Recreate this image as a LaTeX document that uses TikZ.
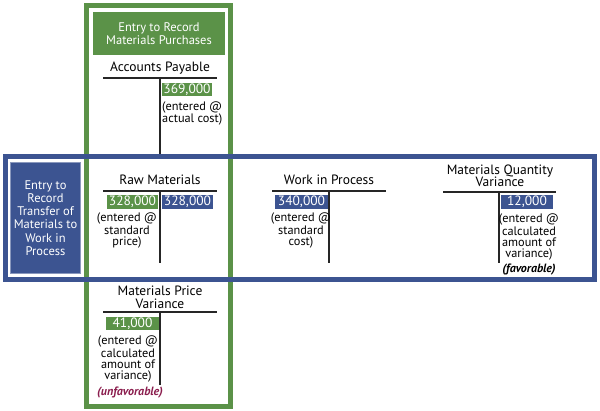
\documentclass[tikz,border=0pt]{standalone}
\usepackage{fontspec}
\setmainfont{PT Sans}
\definecolor{grn}{HTML}{5B9248}
\definecolor{blu}{HTML}{3C5491}
\definecolor{maroon}{HTML}{8B1E4E}
\tikzset{
  frame/.style={line width=5pt},
  title/.style={font=\fontsize{12.5}{13.2}\selectfont, text=white, align=center, inner sep=0pt},
  acct/.style={font=\fontsize{13.5}{12.5}\selectfont, align=center, inner sep=0pt},
  tline/.style={line width=1.6pt, black!85},
  amt/.style={font=\fontsize{13.5}{12}\selectfont, text=white, inner sep=0pt, minimum height=13.5pt},
  note/.style={font=\fontsize{12.3}{11.3}\selectfont, align=center, inner sep=0pt},
  fav/.style={font=\fontsize{12}{11}\selectfont\bfseries\itshape, inner sep=0pt}
}
\begin{document}
\begin{tikzpicture}[x=1pt,y=-1pt]
\useasboundingbox (0,0) rectangle (600,411);
% green frame
\draw[frame, grn] (86.5,5.5) rectangle (230.5,407);
% green title
\node[title, fill=grn, minimum width=132pt, minimum height=43pt] (gtitle) at (159,33.5) {Entry to Record\\Materials Purchases};
% Accounts payable
\node[acct] (ap) at (160,68) {Accounts Payable};
\coordinate (apl) at (103,78); \coordinate (apr) at (217,78);
\coordinate (apt) at (160,78); \coordinate (apb) at (160,154);
\draw[tline] (apl) -- (apr);
\draw[tline] (apt) -- (apb);
\node[amt, fill=grn, minimum width=50pt] (ap1) at (187,89.5) {369,000};
\node[note, align=left, anchor=north west] (apn) at (162,101.5) {(entered @\\actual cost)};
% Materials price variance
\node[acct] (mpv) at (160,297.5) {Materials Price\\Variance};
\coordinate (mpvl) at (103,312); \coordinate (mpvr) at (217,312);
\coordinate (mpvt) at (160,312); \coordinate (mpvb) at (160,385);
\draw[tline] (mpvl) -- (mpvr);
\draw[tline] (mpvt) -- (mpvb);
\node[amt, fill=grn, minimum width=53pt] (mpv1) at (132.5,323.5) {41,000};
\node[note, anchor=north] (mpvn) at (128,336) {(entered @\\calculated\\amount of\\variance)};
\node[fav, text=maroon] (unf) at (130,393) {(unfavorable)};
% blue frame
\draw[frame, blu] (5.5,156.5) rectangle (594,280);
% blue title
\node[title, fill=blu, draw=blu!60, line width=0.8pt, minimum width=70pt, minimum height=111pt] (btitle) at (45.5,218) {Entry to\\Record\\Transfer of\\Materials to\\Work in\\Process};
% Raw materials
\node[acct] (rm) at (160,180) {Raw Materials};
\coordinate (rml) at (103,191); \coordinate (rmr) at (217,191);
\coordinate (rmt) at (160,191); \coordinate (rmb) at (160,263);
\draw[tline] (rml) -- (rmr);
\draw[tline] (rmt) -- (rmb);
\node[amt, fill=grn, minimum width=51pt] (rm1) at (132.5,202) {328,000};
\node[amt, fill=blu, minimum width=51pt] (rm2) at (187.5,202) {328,000};
\node[note, anchor=north] (rmn) at (127,213) {(entered @\\standard\\price)};
% Work in process
\node[acct] (wip) at (329,180) {Work in Process};
\coordinate (wipl) at (272,191); \coordinate (wipr) at (386,191);
\coordinate (wipt) at (329,191); \coordinate (wipb) at (329,263);
\draw[tline] (wipl) -- (wipr);
\draw[tline] (wipt) -- (wipb);
\node[amt, fill=blu, minimum width=53pt] (wip1) at (301.5,202) {340,000};
\node[note, anchor=north] (wipn) at (301,213) {(entered @\\standard\\cost)};
% Materials quantity variance
\node[acct] (mqv) at (500,176) {Materials Quantity\\Variance};
\coordinate (mqvl) at (443,192); \coordinate (mqvr) at (556,192);
\coordinate (mqvt) at (499,192); \coordinate (mqvb) at (499,263);
\draw[tline] (mqvl) -- (mqvr);
\draw[tline] (mqvt) -- (mqvb);
\node[amt, fill=blu, minimum width=52pt] (mqv1) at (527,202) {12,000};
\node[note, anchor=north] (mqvn) at (529,214) {(entered @\\calculated\\amount of\\variance)};
\node[fav] (favn) at (529,270) {(favorable)};
\end{tikzpicture}
\end{document}
